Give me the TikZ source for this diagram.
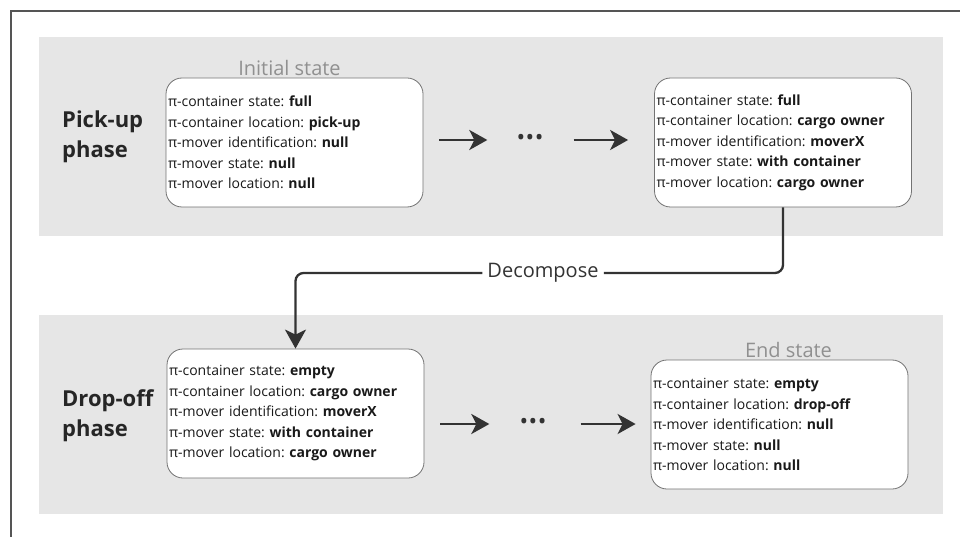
\documentclass[tikz,border=0pt]{standalone}
\usepackage{fontspec}
\setmainfont{Open Sans}
\usetikzlibrary{arrows.meta,positioning}
\definecolor{band}{HTML}{E6E6E6}
\definecolor{ink}{HTML}{333333}
\definecolor{framegray}{HTML}{555555}
\definecolor{captiongray}{HTML}{909090}
\frenchspacing
\newcommand{\attr}[2]{π-#1: \textbf{#2}}
\tikzset{
  statebox/.style={draw=black!55, line width=0.8pt, fill=white,
    rounded corners=16pt, minimum height=129pt, text width=253pt,
    inner xsep=2pt, align=left, text=black!90,
    font=\fontsize{14}{20.5}\selectfont},
  phase/.style={align=left, anchor=west, inner sep=0pt, text=black!85,
    font=\fontsize{22}{30}\selectfont\bfseries},
  caption/.style={text=captiongray, inner sep=2pt,
    font=\fontsize{20}{22}\selectfont},
  dots/.style={inner sep=0pt, text=ink, font=\fontsize{23}{23}\selectfont},
  flow/.style={draw=ink, line width=2.8pt,
    -{Stealth[length=18pt,width=20pt,inset=5pt]}},
  link/.style={draw=ink, line width=2.3pt, rounded corners=8pt,
    -{Stealth[length=19pt,width=21pt,inset=5pt]}}
}
\newcommand{\dotrow}{\textbullet\hspace{0.5pt}\textbullet\hspace{0.5pt}\textbullet}
\begin{document}
\begin{tikzpicture}[x=1pt,y=-1pt]
  \useasboundingbox (0,0) rectangle (960,537);
  \draw [framegray, line width=1.6pt] (960,11) -- (11,11) -- (11,537);
  \fill [band] (39,37) rectangle (943,236);
  \fill [band] (39,315) rectangle (943,514);

  % pick-up phase
  \node [phase] (pickup) at (62,137) {Pick-up\\phase};
  \node [statebox] (init) at (294.5,142.5) {\attr{container state}{full}\\
    \attr{container location}{pick-up}\\
    \attr{mover identification}{null}\\
    \attr{mover state}{null}\\
    \attr{mover location}{null}};
  \node [caption, above=0pt of init, xshift=-5pt] (initcap) {Initial state};
  \node [dots] (dotsA) at (530,140) {\dotrow};
  \node [statebox] (loaded) at (783,142.5) {\attr{container state}{full}\\
    \attr{container location}{cargo owner}\\
    \attr{mover identification}{moverX}\\
    \attr{mover state}{with container}\\
    \attr{mover location}{cargo owner}};
  \draw [flow, shorten <=16pt, shorten >=29pt] (init.east |- dotsA) -- (dotsA.west);
  \draw [flow, shorten <=30pt, shorten >=26pt] (dotsA.east) -- (loaded.west |- dotsA);

  % drop-off phase
  \node [phase] (dropoff) at (62,416) {Drop-off\\phase};
  \node [statebox] (handover) at (295.5,413.5) {\attr{container state}{empty}\\
    \attr{container location}{cargo owner}\\
    \attr{mover identification}{moverX}\\
    \attr{mover state}{with container}\\
    \attr{mover location}{cargo owner}};
  \node [dots] (dotsB) at (533,424) {\dotrow};
  \node [statebox] (final) at (779.5,424.5) {\attr{container state}{empty}\\
    \attr{container location}{drop-off}\\
    \attr{mover identification}{null}\\
    \attr{mover state}{null}\\
    \attr{mover location}{null}};
  \node [caption, above=0pt of final, xshift=9pt] (finalcap) {End state};
  \draw [flow, shorten <=16pt, shorten >=30pt] (handover.east |- dotsB) -- (dotsB.west);
  \draw [flow, shorten <=34pt, shorten >=15pt] (dotsB.east) -- (final.west |- dotsB);

  % decomposition link
  \node [fill=white, inner xsep=5pt, inner ysep=2pt, text=ink,
         font=\fontsize{20}{22}\selectfont] (decomp) at (543,273) {Decompose};
  \draw [link] (loaded.south) |- (decomp) -| (handover.north);
\end{tikzpicture}
\end{document}
